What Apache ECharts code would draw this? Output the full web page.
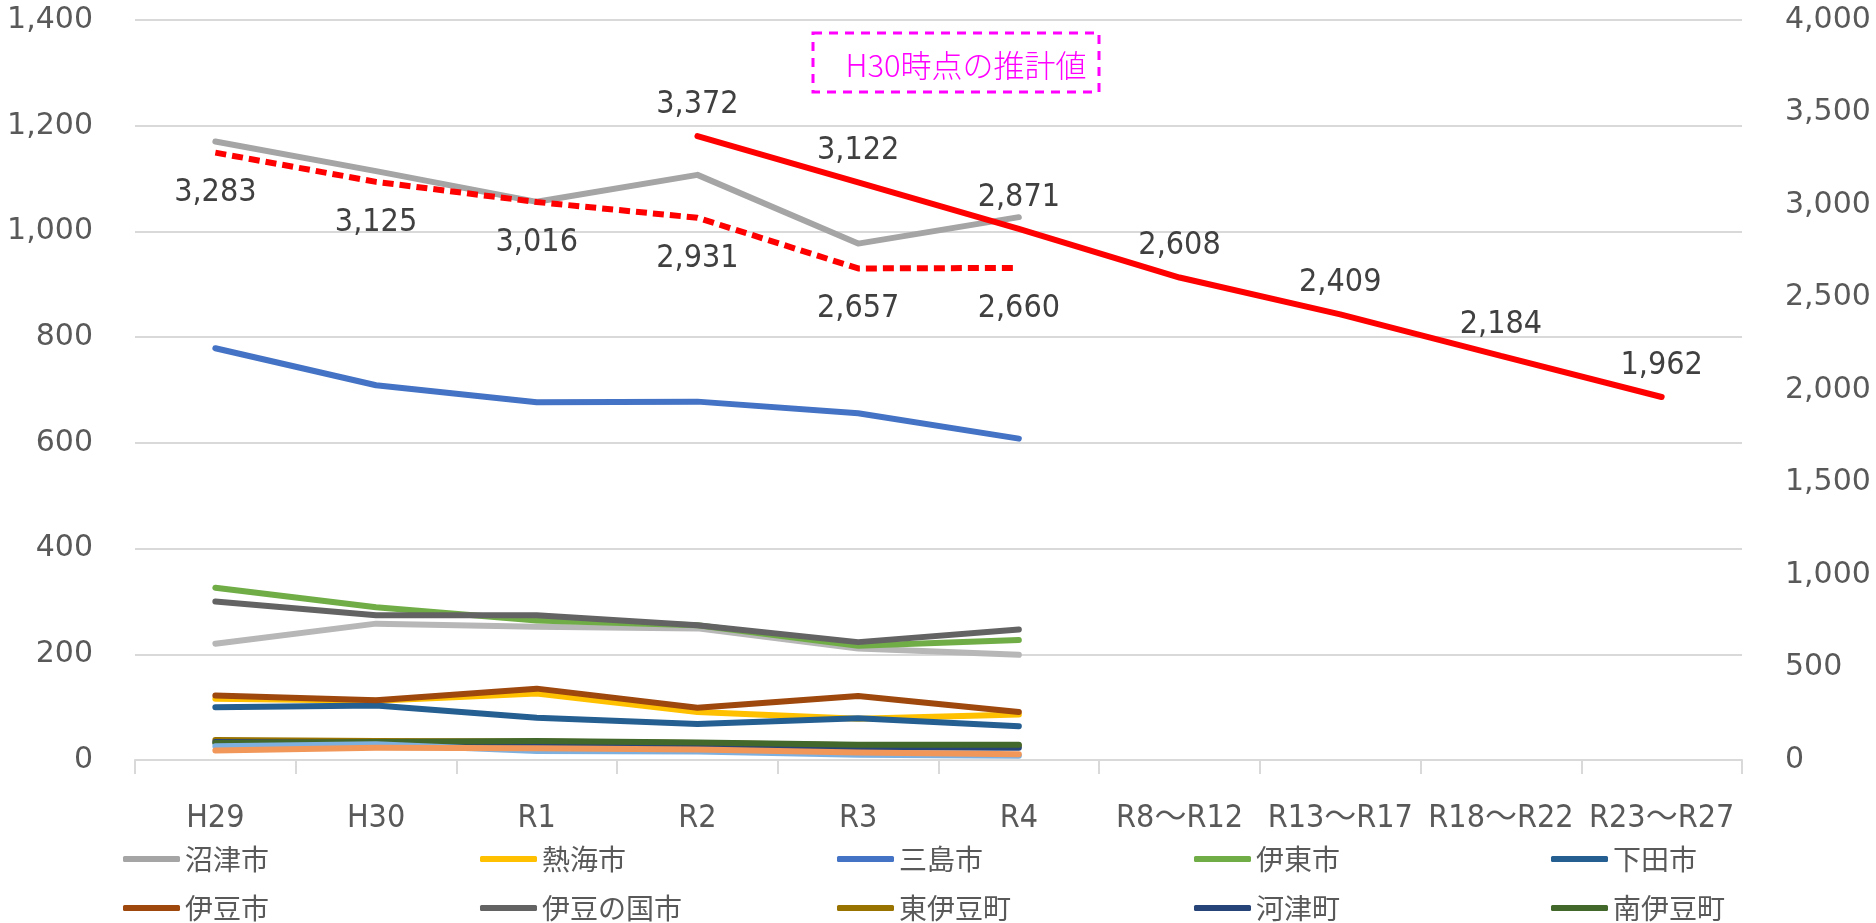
<!DOCTYPE html>
<html>
<head>
<meta charset="utf-8">
<script src="https://cdn.jsdelivr.net/npm/echarts@6/dist/echarts.min.js"></script>
<style>
  html, body { margin: 0; padding: 0; background: #fff; }
  #chart { width: 1876px; height: 923px; }
</style>
</head>
<body>
<div id="chart"></div>
<script>
// categories
const categories = ["H29", "H30", "R1", "R2", "R3", "R4", "R8～R12", "R13～R17", "R18～R22", "R23～R27"];
const leftTicks = [0, 200, 400, 600, 800, 1000, 1200, 1400];
const rightTicks = [0, 500, 1000, 1500, 2000, 2500, 3000, 3500, 4000];

// municipalities (left axis), H29 - R4
const numazu = [1170, 1114, 1056, 1107, 977, 1027];
const atami = [116, 112, 126, 91, 78, 86];
const mishima = [779, 709, 677, 678, 656, 608];
const ito = [326, 289, 264, 255, 216, 227];
const shimoda = [100, 103, 80, 68, 79, 64];
const izu = [122, 113, 135, 99, 121, 91];
const izunokuni = [300, 274, 274, 255, 223, 247];
const higashiizu = [38, 36, 35, 32, 28, 27];
const kawazu = [34, 32, 30, 28, 24, 23];
const minamiizu = [32, 34, 36, 33, 29, 29];
// lines not shown in the legend
const kannami = [220, 258, 252, 249, 211, 199];
const matsuzaki = [26, 30, 17, 16, 10, 8];
const nishiizu = [18, 23, 22, 20, 14, 11];

// totals (right axis)
const totalActual = [3283, 3125, 3016, 2931, 2657, 2660, "-", "-", "-", "-"];
const totalEstimate = ["-", "-", "-", 3372, 3122, 2871, 2608, 2409, 2184, 1962];

const cityNames = ["沼津市", "熱海市", "三島市", "伊東市", "下田市", "伊豆市", "伊豆の国市", "東伊豆町", "河津町", "南伊豆町"];
const cityData = [numazu, atami, mishima, ito, shimoda, izu, izunokuni, higashiizu, kawazu, minamiizu];
const cityColors = ["#A5A5A5", "#FFC000", "#4472C4", "#70AD47", "#255E91", "#9E480E", "#636363", "#997300", "#264478", "#43682B"];

const numFont = "'DejaVu Sans', 'Noto Sans CJK JP', sans-serif";
const narrowFont = "'Liberation Sans Narrow', 'DejaVu Sans Condensed', 'Noto Sans CJK JP', sans-serif";
const jpFont = "'Noto Sans CJK JP', sans-serif";
const fmt = (v) => Number(v).toLocaleString("en-US");

const chart = echarts.init(document.getElementById("chart"));

const lineSeries = (name, data, color) => ({
  name: name,
  type: "line",
  yAxisIndex: 0,
  data: data,
  symbol: "none",
  lineStyle: { color: color, width: 6, cap: "round", join: "round" },
  itemStyle: { color: color },
  emphasis: { disabled: true },
});

const totalLabel = (pos, dist) => ({
  show: true,
  position: pos,
  distance: dist,
  fontSize: 32,
  fontFamily: narrowFont,
  color: "#404040",
  formatter: (p) => fmt(p.value),
});

const series = [];
// lines kept out of the legend, drawn underneath
series.push(lineSeries("函南町", kannami, "#B7B7B7"));
cityNames.forEach((n, i) => series.push(lineSeries(n, cityData[i], cityColors[i])));
series.push(lineSeries("松崎町", matsuzaki, "#7EB0DF"));
series.push(lineSeries("西伊豆町", nishiizu, "#F1975A"));

series.push({
  name: "実績",
  type: "line",
  yAxisIndex: 1,
  data: totalActual,
  showSymbol: true,
  symbol: "circle",
  symbolSize: 1,
  itemStyle: { color: "rgba(0,0,0,0)" },
  lineStyle: { color: "#FF0000", width: 6, type: [11, 6] },
  label: totalLabel("bottom", 24),
  emphasis: { disabled: true },
  z: 5,
});
series.push({
  name: "推計",
  type: "line",
  yAxisIndex: 1,
  data: totalEstimate,
  showSymbol: true,
  symbol: "circle",
  symbolSize: 1,
  itemStyle: { color: "rgba(0,0,0,0)" },
  lineStyle: { color: "#FF0000", width: 6, cap: "round" },
  label: totalLabel("top", 15),
  emphasis: { disabled: true },
  z: 5,
});

// one legend per entry so the columns sit on a fixed pitch
const legends = cityNames.map((n, i) => ({
  orient: "horizontal",
  left: 118 + (i % 5) * 357,
  top: i < 5 ? 840 : 889,
  data: [n],
  icon: "roundRect",
  itemWidth: 57,
  itemHeight: 6,
  textStyle: { fontSize: 28, fontFamily: jpFont, color: "#595959" },
  selectedMode: false,
}));

chart.setOption({
  animation: false,
  grid: { left: 135, right: 134, top: 20, bottom: 163 },
  legend: legends,
  graphic: [
    {
      type: "rect",
      shape: { x: 813, y: 33, width: 286, height: 59 },
      style: { fill: "none", stroke: "#FF00FF", lineWidth: 3, lineDash: [9, 7] },
      z: 10,
    },
    {
      type: "text",
      x: 966,
      y: 65,
      style: {
        text: "H30時点の推計値",
        fill: "#FF00FF",
        font: "300 31px " + jpFont,
        align: "center",
        verticalAlign: "middle",
      },
      z: 10,
    },
  ],
  xAxis: {
    type: "category",
    data: categories,
    boundaryGap: true,
    axisLine: { lineStyle: { color: "#D9D9D9", width: 2 } },
    axisTick: { show: true, interval: 0, length: 14, lineStyle: { color: "#D9D9D9", width: 2 } },
    axisLabel: {
      interval: 0,
      margin: 43,
      fontSize: 32,
      fontFamily: narrowFont,
      color: "#595959",
    },
  },
  yAxis: [
    {
      type: "value",
      min: leftTicks[0],
      max: leftTicks[leftTicks.length - 1],
      interval: leftTicks[1] - leftTicks[0],
      axisLine: { show: false },
      axisTick: { show: false },
      splitLine: { lineStyle: { color: "#D9D9D9", width: 2 } },
      axisLabel: {
        margin: 42,
        fontSize: 30,
        fontFamily: numFont,
        color: "#595959",
        formatter: fmt,
      },
    },
    {
      type: "value",
      min: rightTicks[0],
      max: rightTicks[rightTicks.length - 1],
      interval: rightTicks[1] - rightTicks[0],
      axisLine: { show: false },
      axisTick: { show: false },
      splitLine: { show: false },
      axisLabel: {
        margin: 43,
        fontSize: 30,
        fontFamily: numFont,
        color: "#595959",
        formatter: fmt,
      },
    },
  ],
  series: series,
});
</script>
</body>
</html>
